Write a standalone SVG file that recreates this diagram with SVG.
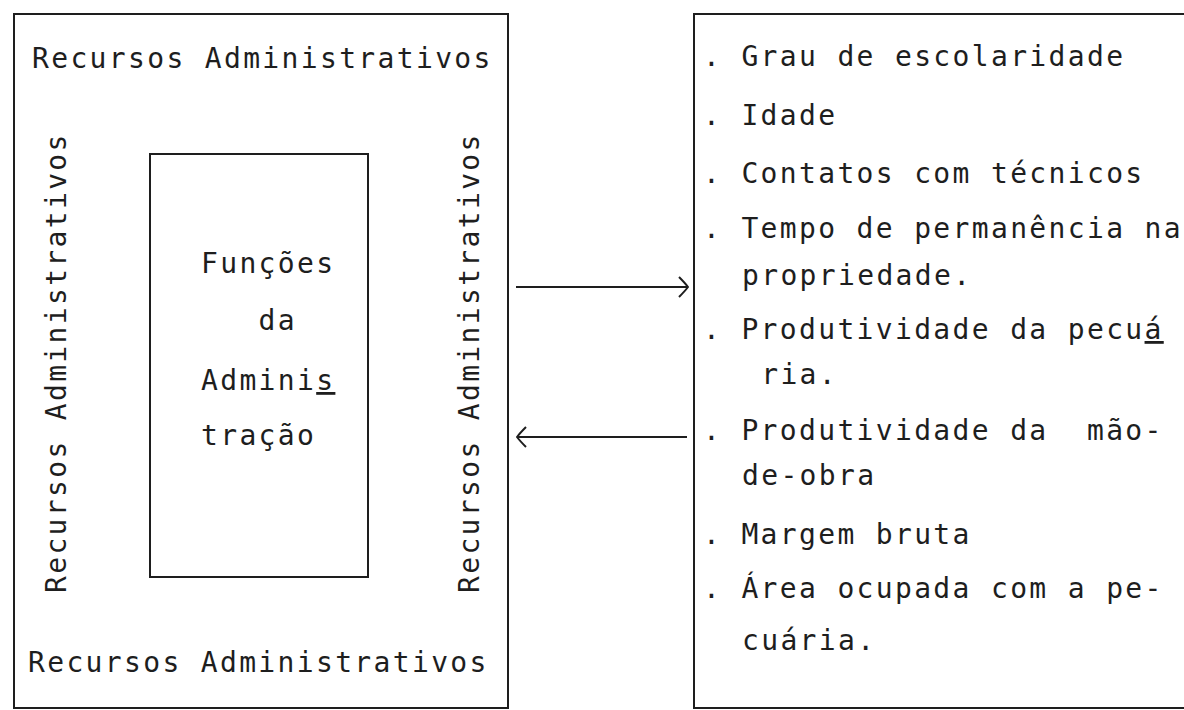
<svg xmlns="http://www.w3.org/2000/svg" width="1184" height="710" viewBox="0 0 1184 710">
<style>
.t{font-family:"DejaVu Sans Mono","Liberation Mono",monospace;font-size:28px;letter-spacing:2.34px;fill:#1e1e1e;white-space:pre}
.box{fill:none;stroke:#1e1e1e;stroke-width:2}
.conn{fill:none;stroke:#1e1e1e;stroke-width:2}
</style>
<defs>
<marker id="head" viewBox="0 0 12 22" refX="11" refY="11" markerWidth="12" markerHeight="22" markerUnits="userSpaceOnUse" orient="auto">
<path d="M2,1 Q8,7 11,11 Q8,15 2,21" fill="none" stroke="#1e1e1e" stroke-width="2"/>
</marker>
</defs>
<rect width="1184" height="710" fill="#ffffff"/>
<g id="left-box">
<rect class="box" x="14" y="14" width="494" height="694"/>
<text class="t" x="32" y="68">Recursos Administrativos</text>
<text class="t" x="28" y="672">Recursos Administrativos</text>
<text class="t" transform="translate(66,593) rotate(-90)">Recursos Administrativos</text>
<text class="t" transform="translate(479,593) rotate(-90)">Recursos Administrativos</text>
</g>
<g id="inner-box">
<rect class="box" x="150" y="154" width="218" height="423"/>
<text class="t" x="201" y="273">Funções</text>
<text class="t" x="201" y="330">   da</text>
<text class="t" x="201" y="390">Admini<tspan text-decoration="underline">s</tspan></text>
<text class="t" x="201" y="445">tração</text>
</g>
<g id="right-box">
<path class="box" d="M1186,14 H694 V708 H1186"/>
<text class="t" x="703" y="66">. Grau de escolaridade</text>
<text class="t" x="703" y="125">. Idade</text>
<text class="t" x="703" y="183">. Contatos com técnicos</text>
<text class="t" x="703" y="238">. Tempo de permanência na</text>
<text class="t" x="742" y="285">propriedade.</text>
<text class="t" x="703" y="339">. Produtividade da pecu<tspan text-decoration="underline">á</tspan></text>
<text class="t" x="742" y="384"> ria.</text>
<text class="t" x="703" y="440">. Produtividade da  mão-</text>
<text class="t" x="742" y="485">de-obra</text>
<text class="t" x="703" y="544">. Margem bruta</text>
<text class="t" x="703" y="598">. Área ocupada com a pe-</text>
<text class="t" x="742" y="650">cuária.</text>
</g>
<g id="connectors">
<line class="conn" x1="516" y1="287" x2="688" y2="287" marker-end="url(#head)"/>
<line class="conn" x1="687" y1="437" x2="517" y2="437" marker-end="url(#head)"/>
</g>
</svg>
